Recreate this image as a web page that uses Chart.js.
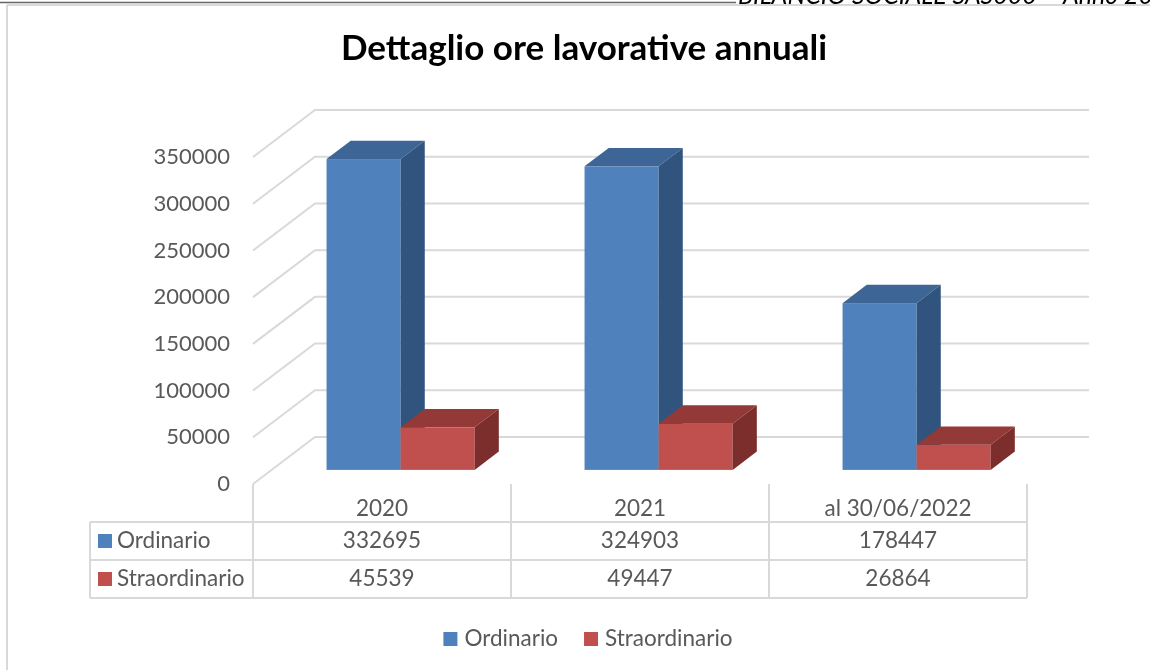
<!DOCTYPE html>
<html>
<head>
<meta charset="utf-8">
<script src="https://cdn.jsdelivr.net/npm/chart.js@4.4.1/dist/chart.umd.min.js"></script>
<style>
  html, body { margin: 0; padding: 0; background: #fff; }
  canvas { display: block; }
</style>
</head>
<body>
<canvas id="chart" width="1150" height="670"></canvas>
<script>
// data
const categories = ["2020", "2021", "al 30/06/2022"];
const seriesNames = ["Ordinario", "Straordinario"];
const ordinario = [332695, 324903, 178447];
const straordinario = [45539, 49447, 26864];
const yMax = 350000;
const yStep = 50000;
const titleText = "Dettaglio ore lavorative annuali";

const FONT = "Lato, 'Noto Sans', sans-serif";
const GRID = "#d9d9d9";
const TEXT = "#595959";
const FS = 22.5;

// 3D look: depth of floor/walls and where the bars sit inside it
const depth = { dx: 62, dy: -47 };
const barFront = 0.3;
const barBack = 0.69;
const faces = [
  { front: "#4f81bd", top: "#3d6596", side: "#31547e" },
  { front: "#c0504d", top: "#933a38", side: "#7b2e2c" },
];

function poly(ctx, color, pts) {
  ctx.fillStyle = color;
  ctx.beginPath();
  ctx.moveTo(pts[0][0], pts[0][1]);
  pts.slice(1).forEach((p) => ctx.lineTo(p[0], p[1]));
  ctx.closePath();
  ctx.fill();
}

function line(ctx, x1, y1, x2, y2) {
  ctx.beginPath();
  ctx.moveTo(x1, y1);
  ctx.lineTo(x2, y2);
  ctx.stroke();
}

const threeD = {
  id: "threeD",
  beforeDatasetsDraw(chart) {
    const { ctx, chartArea: a, scales } = chart;
    const y = scales.y;
    ctx.save();

    // side wall + back wall gridlines
    ctx.strokeStyle = GRID;
    ctx.lineWidth = 2;
    y.ticks.forEach((t) => {
      const py = y.getPixelForValue(t.value);
      ctx.beginPath();
      ctx.moveTo(a.left, py);
      ctx.lineTo(a.left + depth.dx, py + depth.dy);
      ctx.lineTo(a.right + depth.dx, py + depth.dy);
      ctx.stroke();
    });

    // bars, one category at a time so the faces overlap properly
    const fx = depth.dx * barFront, fy = depth.dy * barFront;
    const bx = depth.dx * (barBack - barFront), by = depth.dy * (barBack - barFront);
    categories.forEach((c, i) => {
      chart.data.datasets.forEach((ds, d) => {
        const el = chart.getDatasetMeta(d).data[i];
        const l = el.x - el.width / 2 + fx;
        const r = el.x + el.width / 2 + fx;
        const t = el.y + fy;
        const b = el.base + fy;
        const f = faces[d];
        ctx.fillStyle = f.front;
        ctx.fillRect(l, t, r - l, b - t);
        poly(ctx, f.top, [[l, t], [l + bx, t + by], [r + bx, t + by], [r, t]]);
        poly(ctx, f.side, [[r, t], [r + bx, t + by], [r + bx, b + by], [r, b]]);
      });
    });

    ctx.restore();
    return false;
  },
  afterDraw(chart) {
    const { ctx, chartArea: a, scales } = chart;
    const x = scales.x;
    const rowH = 38;
    const top = a.bottom;
    const labelLeft = 90;
    const rows = [ordinario, straordinario];
    ctx.save();

    // title
    ctx.fillStyle = "#000";
    ctx.font = "bold 35px " + FONT;
    ctx.textAlign = "center";
    ctx.textBaseline = "middle";
    ctx.fillText(titleText, 584, 49);

    // data table grid
    ctx.strokeStyle = GRID;
    ctx.lineWidth = 2;
    for (let k = 1; k <= 3; k++) line(ctx, labelLeft, top + k * rowH, a.right, top + k * rowH);
    const edges = [a.left];
    for (let i = 0; i < categories.length - 1; i++) {
      edges.push((x.getPixelForValue(i) + x.getPixelForValue(i + 1)) / 2);
    }
    edges.push(a.right);
    edges.forEach((ex) => line(ctx, ex, top, ex, top + 3 * rowH));
    line(ctx, labelLeft, top + rowH, labelLeft, top + 3 * rowH);

    // table text
    ctx.font = FS + "px " + FONT;
    rows.forEach((vals, r) => {
      const cy = top + rowH * (r + 1) + rowH / 2;
      ctx.fillStyle = faces[r].front;
      ctx.fillRect(labelLeft + 8, cy - 7, 14, 14);
      ctx.fillStyle = TEXT;
      ctx.textAlign = "left";
      ctx.fillText(seriesNames[r], labelLeft + 27, cy);
      ctx.textAlign = "center";
      vals.forEach((v, i) => ctx.fillText(String(v), x.getPixelForValue(i), cy));
    });

    // legend
    const ly = 639;
    const widths = seriesNames.map((n) => ctx.measureText(n).width);
    const total = widths.reduce((s, w) => s + w + 21, 0) + 26;
    let lx = 588 - total / 2;
    ctx.textAlign = "left";
    seriesNames.forEach((n, i) => {
      ctx.fillStyle = faces[i].front;
      ctx.fillRect(lx, ly - 7, 14, 14);
      ctx.fillStyle = TEXT;
      ctx.fillText(n, lx + 21, ly);
      lx += widths[i] + 21 + 26;
    });

    // page frame and clipped running header
    ctx.strokeStyle = GRID;
    line(ctx, 7, 5, 7, 670);
    line(ctx, 7, 5, 1150, 5);
    ctx.strokeStyle = "#666";
    ctx.lineWidth = 1.5;
    line(ctx, 0, 2.5, 736, 2.5);
    ctx.fillStyle = "#000";
    ctx.font = "italic 25px " + FONT;
    ctx.textBaseline = "alphabetic";
    ctx.fillText("BILANCIO SOCIALE SAS000 \u2013 Anno 2022", 738, 4);

    ctx.restore();
  },
};

new Chart(document.getElementById("chart"), {
  type: "bar",
  data: {
    labels: categories,
    datasets: [
      { label: seriesNames[0], data: ordinario, backgroundColor: faces[0].front },
      { label: seriesNames[1], data: straordinario, backgroundColor: faces[1].front },
    ],
  },
  options: {
    responsive: false,
    animation: false,
    categoryPercentage: 0.574,
    barPercentage: 1,
    layout: { padding: { top: 157, right: 123, bottom: 0, left: 0 } },
    scales: {
      x: {
        grid: { display: false, drawTicks: false },
        border: { display: false },
        ticks: {
          padding: 11,
          color: TEXT,
          font: { family: FONT, size: FS },
          maxRotation: 0,
          autoSkip: false,
        },
        afterFit(scale) {
          scale.height = 186;
        },
      },
      y: {
        min: 0,
        max: yMax,
        grid: { display: false, drawTicks: false },
        border: { display: false },
        ticks: {
          stepSize: yStep,
          padding: 23,
          color: TEXT,
          font: { family: FONT, size: 22 },
          callback: (v) => String(v),
        },
        afterFit(scale) {
          scale.width = 253;
        },
      },
    },
    plugins: {
      legend: { display: false },
      tooltip: { enabled: false },
      title: { display: false },
    },
  },
  plugins: [threeD],
});
</script>
</body>
</html>
